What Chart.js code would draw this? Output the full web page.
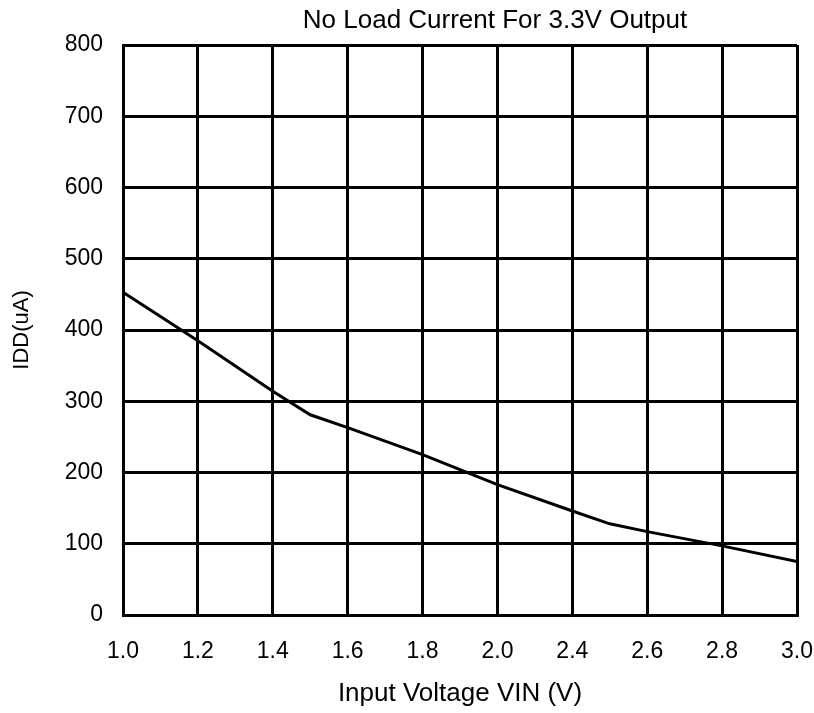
<!DOCTYPE html>
<html>
<head>
<meta charset="utf-8">
<script src="https://cdn.jsdelivr.net/npm/chart.js@4/dist/chart.umd.min.js"></script>
<style>
html,body{margin:0;padding:0;background:#fff;}
#wrap{width:814px;height:713px;}
</style>
</head>
<body>
<div id="wrap"><canvas id="c" width="814" height="713"></canvas></div>
<script>
// Axis tick labels (evenly spaced on the original, note 2.2 is skipped)
const xTickLabels = ['1.0','1.2','1.4','1.6','1.8','2.0','2.4','2.6','2.8','3.0'];
const yTickMax = 800;
const yTickStep = 100;
// Series: input voltage (V) and no-load current IDD (uA)
const vin = [1.0, 1.2, 1.4, 1.5, 1.6, 1.8, 2.0, 2.4, 2.5, 2.6, 2.8, 3.0];
const idd = [453, 385, 314, 281, 263, 225, 183, 146, 128, 117, 97, 75];
const chartTitle = 'No Load Current For 3.3V Output';

// map a voltage onto the evenly spaced tick axis (piecewise, as drawn)
const tickVals = xTickLabels.map(Number);
function vToPos(v){
  for(let i=0;i<tickVals.length-1;i++){
    if(v>=tickVals[i] && v<=tickVals[i+1]){
      return i + (v-tickVals[i])/(tickVals[i+1]-tickVals[i]);
    }
  }
  return tickVals.length-1;
}
const points = vin.map((v,i)=>({x: vToPos(v), y: idd[i]}));

const FONT = "'Liberation Sans', Arial, sans-serif";
Chart.defaults.font.family = FONT;
Chart.defaults.color = '#000';

const titlePlugin = {
  id: 'offsetTitle',
  afterDraw(chart){
    const ctx = chart.ctx;
    ctx.save();
    ctx.font = "26px " + FONT;
    ctx.fillStyle = '#000';
    ctx.textAlign = 'center';
    ctx.textBaseline = 'alphabetic';
    ctx.fillText(chartTitle, 495, 28);
    ctx.restore();
  }
};

new Chart(document.getElementById('c'), {
  type: 'line',
  data: {
    datasets: [{
      data: points,
      borderColor: '#000',
      borderWidth: 3,
      pointRadius: 0,
      tension: 0,
      fill: false
    }]
  },
  plugins: [titlePlugin],
  options: {
    responsive: false,
    animation: false,
    layout: { padding: { left: 9, right: 0, top: 45, bottom: 4 } },
    plugins: {
      legend: { display: false },
      tooltip: { enabled: false },
      title: { display: false }
    },
    scales: {
      x: {
        type: 'linear',
        min: 0,
        max: xTickLabels.length - 1,
        afterFit: (s) => { s.height = 94; s.paddingRight = 17; s.paddingLeft = 0; },
        ticks: {
          stepSize: 1,
          autoSkip: false,
          maxRotation: 0,
          padding: 23,
          color: '#000',
          font: { size: 23, family: FONT },
          callback: (val) => xTickLabels[Math.round(val)]
        },
        grid: { color: '#000', lineWidth: 3, drawTicks: false },
        border: { display: true, color: '#000', width: 3 },
        title: {
          display: true,
          text: 'Input Voltage VIN (V)',
          color: '#000',
          font: { size: 26, family: FONT },
          padding: { top: 0, bottom: 0 }
        }
      },
      y: {
        min: 0,
        max: yTickMax,
        afterFit: (s) => { s.width = 114; },
        ticks: {
          stepSize: yTickStep,
          padding: 20,
          color: '#000',
          font: { size: 23, family: FONT }
        },
        grid: { color: '#000', lineWidth: 3, drawTicks: false },
        border: { display: true, color: '#000', width: 3 },
        title: {
          display: true,
          text: 'IDD(uA)',
          color: '#000',
          font: { size: 22, family: FONT },
          padding: { top: 0, bottom: 0 }
        }
      }
    }
  }
});
</script>
</body>
</html>
